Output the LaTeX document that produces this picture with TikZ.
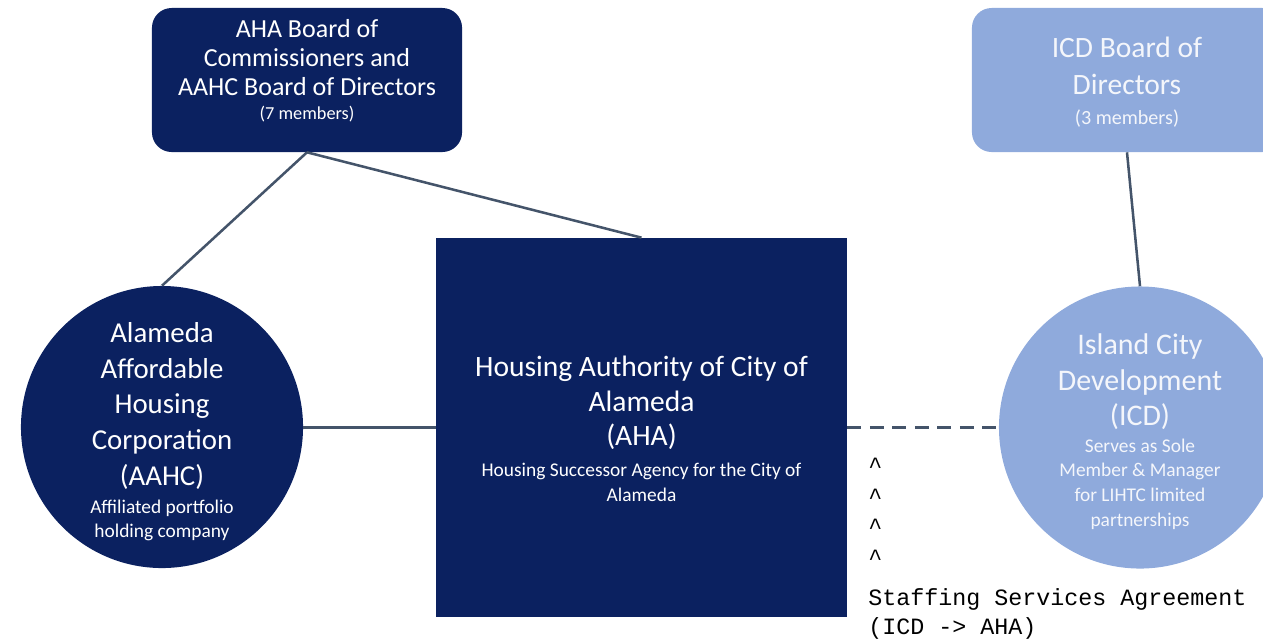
\documentclass[tikz,border=0pt]{standalone}
\usepackage{fontspec}
\setmainfont{Carlito}
\newfontfamily\typewriter{Liberation Mono}

\definecolor{ahanavy}{HTML}{0B2160}
\definecolor{icdblue}{HTML}{8FAADC}
\definecolor{linkgrey}{HTML}{44546A}
\definecolor{icdtext}{HTML}{F4F6FB}

\newcommand{\orgsmall}{\fontsize{13.8}{17.5}\selectfont}

\begin{document}
\begin{tikzpicture}[x=0.025cm,y=-0.025cm,
    boardbox/.style={rounded corners=14pt,minimum width=7.75cm,minimum height=3.6cm},
    orgcircle/.style={circle,minimum size=7.05cm,inner sep=0pt},
    orgtext/.style={align=center,inner sep=0pt},
    link/.style={linkgrey,line width=1.8pt},
    agreement/.style={anchor=base west,inner sep=0pt,font=\typewriter\fontsize{16.6}{20.5}\selectfont}]
  \clip (0,0) rectangle (1263,641);

  % boards
  \node[boardbox,fill=ahanavy] (ahaboard) at (307,80) {};
  \node[orgtext,text=white,font=\fontsize{18.5}{20.5}\selectfont] (ahaboardtxt) at ([yshift=6.7pt]ahaboard.center)
    {AHA Board of\\Commissioners and\\AAHC Board of Directors\\[-3.5pt]{\fontsize{13}{16}\selectfont (7 members)}};
  \node[boardbox,fill=icdblue] (icdboard) at (1127,80) {};
  \node[orgtext,text=icdtext,font=\fontsize{21}{26}\selectfont] (icdboardtxt) at ([yshift=-1.5pt]icdboard.center)
    {ICD Board of\\Directors\\[-5pt]{\fontsize{14.3}{18}\selectfont (3 members)}};

  % entities
  \node[orgcircle,fill=ahanavy] (aahc) at (162,427) {};
  \node[orgtext,text=white,font=\fontsize{20.5}{25.5}\selectfont] (aahctxt) at ([yshift=-3.2pt]aahc.center)
    {Alameda\\Affordable\\Housing\\Corporation\\(AAHC)\\[-5.6pt]
     \orgsmall Affiliated portfolio\\[-8.5pt]\orgsmall holding company};
  \node[fill=ahanavy,minimum width=10.275cm,minimum height=9.475cm] (aha) at (641.5,427.5) {};
  \node[orgtext,text=white,font=\fontsize{21}{24.8}\selectfont] (ahatxt) at ([yshift=-0.7pt]aha.center)
    {Housing Authority of City of\\Alameda\\(AHA)\\[-3.4pt]
     \orgsmall Housing Successor Agency for the City of\\[-7pt]\orgsmall Alameda};
  \node[orgcircle,fill=icdblue] (icd) at (1140,427.5) {};
  \node[orgtext,text=icdtext,font=\fontsize{21.3}{25.5}\selectfont] (icdtxt) at ([yshift=-2.7pt]icd.center)
    {Island City\\Development\\(ICD)\\[-6.8pt]
     \orgsmall Serves as Sole\\[-8pt]\orgsmall Member \& Manager\\[-8pt]
     \orgsmall for LIHTC limited\\[-8pt]\orgsmall partnerships};

  % links
  \draw[link] (ahaboard.south) -- (aahc.north);
  \draw[link] (ahaboard.south) -- (aha.north);
  \draw[link] (aahc.east |- aha.west) -- (aha.west);
  \draw[link,dash pattern=on 10pt off 6pt] (aha.east) -- (icd.west);
  \draw[link] (icdboard.south) -- (icd.north);

  % staffing note
  \foreach \i/\y in {1/473,2/504,3/534,4/565}
    \node[agreement] (caret\i) at (868,\y) {\^{}};
  \node[agreement] (staffing) at (868,605) {Staffing Services Agreement};
  \node[agreement] (staffingdir) at (868,634) {(ICD -> AHA)};
\end{tikzpicture}
\end{document}
